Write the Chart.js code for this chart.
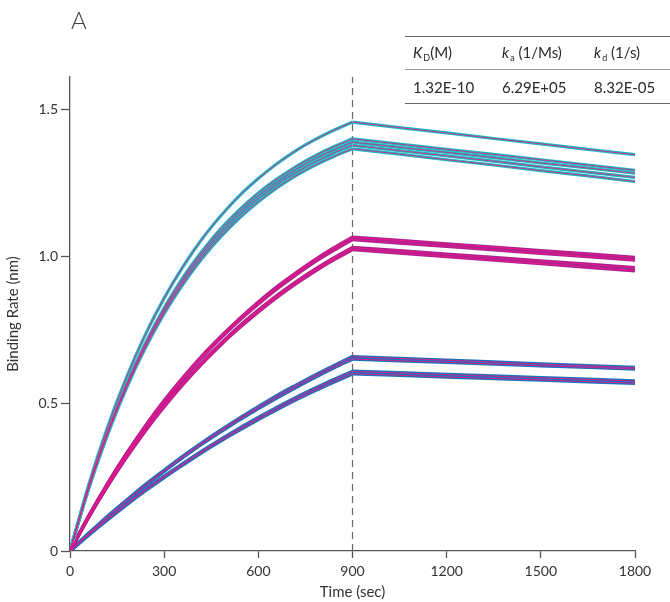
<!DOCTYPE html>
<html>
<head>
<meta charset="utf-8">
<script src="https://cdn.jsdelivr.net/npm/chart.js@4"></script>
<style>
	html, body { margin: 0; padding: 0; background: #fff; }
	#wrap { position: relative; width: 670px; height: 602px; font-family: Lato, "Noto Sans", sans-serif; color: #333; }
	#panel-label { position: absolute; left: 71px; top: 5px; font-size: 24px; font-weight: 300; color: #444; }
	#kinetics { position: absolute; left: 405px; top: 36px; width: 265px; border-collapse: collapse; font-size: 15px; color: #2a2a2a; }
	#kinetics td { padding: 0 0 0 8px; white-space: nowrap; }
	#kinetics tr.head td { height: 32px; border-top: 1.5px solid #666; border-bottom: 1px solid #999; }
	#kinetics tr.vals td { height: 33px; border-bottom: 1.5px solid #666; }
	#kinetics sub { font-size: 9px; vertical-align: -3px; margin-left: 1px; }
	#kinetics i { font-style: italic; }
</style>
</head>
<body>
<div id="wrap">
	<canvas id="chart-kinetics" width="670" height="602"></canvas>
	<div id="panel-label">A</div>
	<table id="kinetics">
		<tr class="head">
			<td style="width:81px"><i>K</i><sub>D</sub>(M)</td>
			<td style="width:84px"><i>k</i><sub>a</sub> (1/Ms)</td>
			<td><i>k</i><sub>d</sub> (1/s)</td>
		</tr>
		<tr class="vals">
			<td>1.32E-10</td>
			<td>6.29E+05</td>
			<td>8.32E-05</td>
		</tr>
	</table>
</div>
<script>
// Time points (sec)
const T_ASSOC = [0, 60, 120, 180, 240, 300, 360, 420, 480, 540, 600, 660, 720, 780, 840, 900];
const T_DISSOC = [900, 1050, 1200, 1350, 1500, 1650, 1800];
const INJECTION_END = 900;

// Highest concentration (cyan)
const CYAN_ASSOC = [
	[0, 0.227, 0.422, 0.590, 0.735, 0.859, 0.966, 1.059, 1.138, 1.207, 1.265, 1.316, 1.360, 1.397, 1.429, 1.457],
	[0, 0.218, 0.406, 0.567, 0.706, 0.826, 0.929, 1.017, 1.094, 1.159, 1.216, 1.264, 1.306, 1.342, 1.373, 1.400],
	[0, 0.216, 0.402, 0.563, 0.700, 0.819, 0.921, 1.009, 1.085, 1.150, 1.206, 1.254, 1.296, 1.332, 1.362, 1.389],
	[0, 0.215, 0.399, 0.558, 0.695, 0.813, 0.914, 1.001, 1.076, 1.141, 1.197, 1.245, 1.286, 1.321, 1.352, 1.378],
	[0, 0.213, 0.396, 0.553, 0.689, 0.806, 0.906, 0.993, 1.067, 1.131, 1.186, 1.234, 1.275, 1.310, 1.340, 1.366],
];
const CYAN_DISSOC = [
	[1.457, 1.438, 1.420, 1.401, 1.383, 1.364, 1.346],
	[1.400, 1.382, 1.364, 1.347, 1.329, 1.311, 1.293],
	[1.389, 1.371, 1.354, 1.336, 1.318, 1.301, 1.283],
	[1.378, 1.360, 1.342, 1.324, 1.305, 1.287, 1.269],
	[1.366, 1.348, 1.329, 1.311, 1.292, 1.274, 1.255],
];

// Middle concentration (purple)
const PURPLE_ASSOC = [
	[0, 0.120, 0.230, 0.331, 0.425, 0.511, 0.589, 0.662, 0.728, 0.789, 0.846, 0.898, 0.945, 0.989, 1.029, 1.066],
	[0, 0.119, 0.228, 0.329, 0.422, 0.507, 0.585, 0.657, 0.723, 0.784, 0.839, 0.891, 0.938, 0.982, 1.021, 1.058],
	[0, 0.116, 0.222, 0.321, 0.411, 0.494, 0.570, 0.640, 0.704, 0.764, 0.818, 0.868, 0.914, 0.956, 0.995, 1.031],
	[0, 0.115, 0.221, 0.318, 0.408, 0.490, 0.566, 0.636, 0.700, 0.758, 0.812, 0.862, 0.908, 0.950, 0.989, 1.024],
];
const PURPLE_DISSOC = [
	[1.066, 1.055, 1.043, 1.032, 1.020, 1.009, 0.997],
	[1.058, 1.046, 1.035, 1.023, 1.011, 1.000, 0.988],
	[1.031, 1.020, 1.008, 0.997, 0.985, 0.974, 0.962],
	[1.024, 1.012, 1.000, 0.988, 0.976, 0.964, 0.952],
];

// Lowest concentration (blue)
const BLUE_ASSOC = [
	[0, 0.060, 0.118, 0.172, 0.225, 0.274, 0.322, 0.367, 0.410, 0.451, 0.490, 0.528, 0.563, 0.597, 0.629, 0.660],
	[0, 0.060, 0.116, 0.170, 0.222, 0.271, 0.318, 0.363, 0.405, 0.446, 0.484, 0.521, 0.556, 0.590, 0.622, 0.652],
	[0, 0.056, 0.109, 0.159, 0.208, 0.254, 0.297, 0.339, 0.379, 0.417, 0.453, 0.488, 0.521, 0.552, 0.582, 0.610],
	[0, 0.055, 0.107, 0.157, 0.205, 0.250, 0.293, 0.335, 0.374, 0.411, 0.447, 0.481, 0.514, 0.545, 0.574, 0.602],
];
const BLUE_DISSOC = [
	[0.660, 0.654, 0.648, 0.642, 0.635, 0.629, 0.623],
	[0.652, 0.646, 0.641, 0.635, 0.629, 0.624, 0.618],
	[0.610, 0.605, 0.599, 0.594, 0.588, 0.583, 0.577],
	[0.602, 0.597, 0.591, 0.586, 0.581, 0.575, 0.570],
];

// Axis ticks
const X_TICKS = [0, 300, 600, 900, 1200, 1500, 1800];
const Y_TICKS = [0, 0.5, 1.0, 1.5];

const FIT_COLOR = "#e5178b";
const AXIS_COLOR = "#555";
const FONT = "Lato, 'Noto Sans', sans-serif";

const toPoints = (times, values) => times.map((t, i) => ({ x: t, y: values[i] }));

const datasets = [];

// data traces (thick) + fitted curves (thin, on top)
const addGroup = (assoc, dissoc, color, width, fitWidth) => {
	assoc.forEach((values, i) => {
		[
			{ pts: toPoints(T_ASSOC, values), smooth: true },
			{ pts: toPoints(T_DISSOC, dissoc[i]), smooth: false },
		].forEach((part) => {
			datasets.push({
				data: part.pts,
				borderColor: color,
				borderWidth: width,
				pointRadius: 0,
				cubicInterpolationMode: part.smooth ? "monotone" : "default",
				order: 1,
			});
			datasets.push({
				data: part.pts,
				borderColor: FIT_COLOR,
				borderWidth: fitWidth,
				pointRadius: 0,
				cubicInterpolationMode: part.smooth ? "monotone" : "default",
				order: 0,
			});
		});
	});
};

addGroup(CYAN_ASSOC, CYAN_DISSOC, "#1fbcc0", 3.2, 0.8);
addGroup(PURPLE_ASSOC, PURPLE_DISSOC, "#a9238f", 3.4, 1.1);
addGroup(BLUE_ASSOC, BLUE_DISSOC, "#1a74bd", 3.6, 0.9);

// end of injection marker
datasets.push({
	data: [
		{ x: INJECTION_END, y: 0 },
		{ x: INJECTION_END, y: 1.61 },
	],
	borderColor: "#666",
	borderWidth: 1.2,
	borderDash: [7, 5],
	pointRadius: 0,
	order: 2,
});

new Chart(document.getElementById("chart-kinetics"), {
	type: "line",
	data: { datasets },
	options: {
		responsive: false,
		animation: false,
		layout: {
			padding: { top: 77, right: 35, left: 0, bottom: 0 },
		},
		scales: {
			x: {
				type: "linear",
				min: 0,
				max: 1800,
				afterFit: (scale) => {
					scale.height = 51;
				},
				afterBuildTicks: (scale) => {
					scale.ticks = X_TICKS.map((v) => ({ value: v }));
				},
				border: { color: AXIS_COLOR, width: 1.3 },
				grid: { drawOnChartArea: false, tickLength: 7, tickColor: AXIS_COLOR, tickWidth: 1.3 },
				ticks: {
					color: "#333",
					font: { family: FONT, size: 14 },
					padding: 5,
					maxRotation: 0,
					callback: (v) => String(v),
				},
				title: {
					display: true,
					text: "Time (sec)",
					color: "#333",
					font: { family: FONT, size: 15 },
					padding: { top: 0, bottom: 1 },
				},
			},
			y: {
				type: "linear",
				min: 0,
				max: 1.61,
				afterFit: (scale) => {
					scale.width = 70;
				},
				afterBuildTicks: (scale) => {
					scale.ticks = Y_TICKS.map((v) => ({ value: v }));
				},
				border: { color: AXIS_COLOR, width: 1.3 },
				grid: { drawOnChartArea: false, tickLength: 9, tickColor: AXIS_COLOR, tickWidth: 1.3 },
				ticks: {
					color: "#333",
					font: { family: FONT, size: 14 },
					padding: 3,
					callback: (v) => (v === 0 ? "0" : v.toFixed(1)),
				},
				title: {
					display: true,
					text: "Binding Rate (nm)",
					color: "#333",
					font: { family: FONT, size: 15 },
					padding: { top: 4, bottom: 0 },
				},
			},
		},
		plugins: {
			legend: { display: false },
			tooltip: { enabled: false },
		},
	},
});
</script>
</body>
</html>
